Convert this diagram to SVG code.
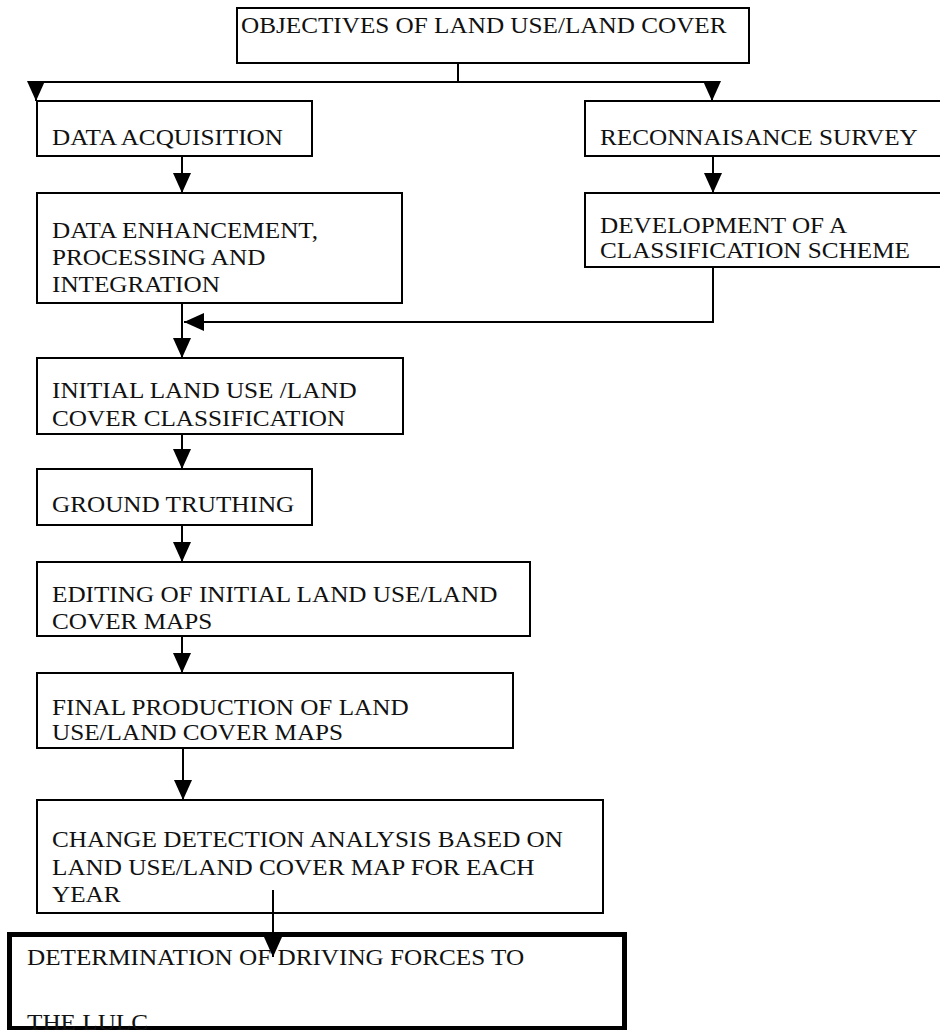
<svg xmlns="http://www.w3.org/2000/svg" width="940" height="1030" viewBox="0 0 940 1030">
<defs>
<style>
rect.box{fill:#fff;stroke:#000;stroke-width:2}
rect.thick{fill:#fff;stroke:#000;stroke-width:5}
text{font-family:"Liberation Serif","Times New Roman",serif;font-size:24px;fill:#111}
.conn line,.conn polyline{stroke:#000;stroke-width:2;fill:none}
</style>
<marker id="ah" markerUnits="userSpaceOnUse" markerWidth="21" markerHeight="18" refX="20" refY="9" orient="auto" viewBox="0 0 21 18">
<path d="M0,0 L20,9 L0,18 z" fill="#000"/>
</marker>
</defs>
<rect width="940" height="1030" fill="#fff"/>

<g id="objectives">
<rect class="box" x="237" y="8" width="512" height="55"/>
<text transform="matrix(1.05 0 0 1 241 33)">OBJECTIVES OF LAND USE/LAND COVER</text>
</g>

<g id="data-acquisition">
<rect class="box" x="37" y="101" width="275" height="55"/>
<text transform="matrix(1.05 0 0 1 52 145)">DATA ACQUISITION</text>
</g>

<g id="data-enhancement">
<rect class="box" x="37" y="193" width="365" height="110"/>
<text transform="matrix(1.05 0 0 1 52 238)">DATA ENHANCEMENT,</text>
<text transform="matrix(1.05 0 0 1 52 265)">PROCESSING AND</text>
<text transform="matrix(1.05 0 0 1 52 292)">INTEGRATION</text>
</g>

<g id="reconnaissance">
<rect class="box" x="585" y="101" width="360" height="55"/>
<text transform="matrix(1.05 0 0 1 600 145)">RECONNAISANCE SURVEY</text>
</g>

<g id="classification-scheme">
<rect class="box" x="585" y="193" width="360" height="74"/>
<text transform="matrix(1.05 0 0 1 600 233)">DEVELOPMENT OF A</text>
<text transform="matrix(1.05 0 0 1 600 258)">CLASSIFICATION SCHEME</text>
</g>

<g id="initial-classification">
<rect class="box" x="37" y="358" width="366" height="76"/>
<text transform="matrix(1.05 0 0 1 52 398)">INITIAL LAND USE /LAND</text>
<text transform="matrix(1.05 0 0 1 52 426)">COVER CLASSIFICATION</text>
</g>

<g id="ground-truthing">
<rect class="box" x="37" y="469" width="275" height="56"/>
<text transform="matrix(1.05 0 0 1 52 512)">GROUND TRUTHING</text>
</g>

<g id="editing">
<rect class="box" x="37" y="562" width="493" height="74"/>
<text transform="matrix(1.05 0 0 1 52 602)">EDITING OF INITIAL LAND USE/LAND</text>
<text transform="matrix(1.05 0 0 1 52 629)">COVER MAPS</text>
</g>

<g id="final-production">
<rect class="box" x="37" y="673" width="476" height="75"/>
<text transform="matrix(1.05 0 0 1 52 715)">FINAL PRODUCTION OF LAND</text>
<text transform="matrix(1.05 0 0 1 52 740)">USE/LAND COVER MAPS</text>
</g>

<g id="change-detection">
<rect class="box" x="37" y="800" width="566" height="113"/>
<text transform="matrix(1.05 0 0 1 52 847)">CHANGE DETECTION ANALYSIS BASED ON</text>
<text transform="matrix(1.05 0 0 1 52 875)">LAND USE/LAND COVER MAP FOR EACH</text>
<text transform="matrix(1.05 0 0 1 52 902)">YEAR</text>
</g>

<g id="driving-forces">
<rect class="thick" x="9.5" y="934.5" width="615" height="94"/>
<text transform="matrix(1.05 0 0 1 27 965)">DETERMINATION OF DRIVING FORCES TO</text>
<text transform="matrix(1.05 0 0 1 27 1030)">THE LULC</text>
</g>

<g id="connectors" class="conn">
<line x1="458" y1="63" x2="458" y2="82"/>
<line x1="36" y1="82" x2="712" y2="82"/>
<line x1="36" y1="82" x2="36" y2="101" marker-end="url(#ah)"/>
<line x1="712" y1="82" x2="712" y2="101" marker-end="url(#ah)"/>
<line x1="182" y1="156" x2="182" y2="193" marker-end="url(#ah)"/>
<line x1="713" y1="156" x2="713" y2="193" marker-end="url(#ah)"/>
<polyline points="713,267 713,322 184,322" marker-end="url(#ah)"/>
<line x1="182" y1="303" x2="182" y2="358" marker-end="url(#ah)"/>
<line x1="182" y1="434" x2="182" y2="469" marker-end="url(#ah)"/>
<line x1="182" y1="525" x2="182" y2="562" marker-end="url(#ah)"/>
<line x1="182" y1="636" x2="182" y2="673" marker-end="url(#ah)"/>
<line x1="183" y1="748" x2="183" y2="800" marker-end="url(#ah)"/>
<line x1="273" y1="890" x2="273" y2="957" marker-end="url(#ah)"/>
</g>
</svg>
